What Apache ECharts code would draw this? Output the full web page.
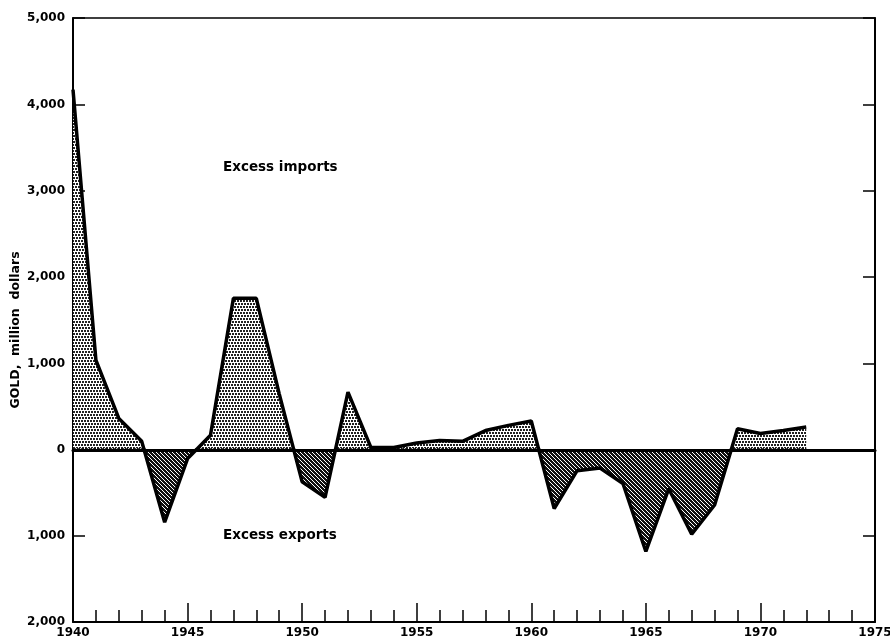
<!DOCTYPE html>
<html>
<head>
<meta charset="utf-8">
<script src="https://cdn.jsdelivr.net/npm/echarts@6/dist/echarts.min.js"></script>
<style>
  html, body { margin: 0; padding: 0; background: #fff; }
  #chart { width: 890px; height: 639px; }
</style>
</head>
<body>
<div id="chart"></div>
<script>
// net gold movement, million dollars (positive = excess imports)
const years = [1940, 1941, 1942, 1943, 1944, 1945, 1946, 1947, 1948, 1949,
  1950, 1951, 1952, 1953, 1954, 1955, 1956, 1957, 1958, 1959,
  1960, 1961, 1962, 1963, 1964, 1965, 1966, 1967, 1968, 1969,
  1970, 1971, 1972]
const gold = [4170, 1040, 365, 100, -840, -100, 170, 1755, 1755, 650,
  -370, -550, 670, 30, 30, 80, 110, 100, 225, 285,
  335, -680, -240, -210, -390, -1180, -450, -980, -640, 245,
  190, 225, 265]

const xMin = 1940
const xMax = 1975
const upperMax = 5000
const lowerMin = -2000

const points = years.map((y, i) => [y, gold[i]])

function dotPattern() {
  const c = document.createElement('canvas')
  c.width = 6
  c.height = 6
  const g = c.getContext('2d')
  g.fillStyle = '#fff'
  g.fillRect(0, 0, 6, 6)
  g.fillStyle = '#222'
  g.fillRect(0, 0, 2, 2)
  g.fillRect(3, 0, 2, 2)
  g.fillRect(1, 3, 2, 2)
  g.fillRect(4, 3, 2, 2)
  return c
}

function hatchPattern() {
  const c = document.createElement('canvas')
  c.width = 4
  c.height = 4
  const g = c.getContext('2d')
  g.fillStyle = '#111'
  g.fillRect(0, 0, 4, 4)
  g.fillStyle = '#fff'
  for (let i = 0; i < 4; i++) g.fillRect(i, i, 1, 1)
  return c
}

const commas = v => Math.abs(v).toLocaleString('en-US')
const labelFont = { fontFamily: 'DejaVu Sans', fontWeight: 'bold', color: '#000' }
const axisBase = { type: 'value', splitLine: { show: false } }

const chart = echarts.init(document.getElementById('chart'))

const option = {
  animation: false,
  grid: [
    { left: 73, width: 802, top: 18, height: 432, outerBoundsMode: 'none', containLabel: false },
    { left: 73, width: 802, top: 450, height: 172, outerBoundsMode: 'none', containLabel: false },
  ],
  xAxis: [
    {
      ...axisBase, gridIndex: 0, min: xMin, max: xMax, position: 'bottom', z: 10,
      axisLine: { onZero: false, lineStyle: { color: '#000', width: 3 } },
      axisTick: { show: false }, axisLabel: { show: false },
    },
    {
      ...axisBase, gridIndex: 0, min: xMin, max: xMax, position: 'top',
      axisLine: { onZero: false, lineStyle: { color: '#000', width: 1.5 } },
      axisTick: { show: false }, axisLabel: { show: false },
    },
    {
      ...axisBase, gridIndex: 1, min: xMin, max: xMax, interval: 1, position: 'bottom',
      axisLine: { onZero: false, lineStyle: { color: '#000', width: 2 } },
      axisTick: { inside: true, length: 12, lineStyle: { color: '#000', width: 1.5 } },
      axisLabel: { show: false },
    },
    {
      ...axisBase, gridIndex: 1, min: xMin, max: xMax, interval: 5, position: 'bottom',
      axisLine: { show: false, onZero: false },
      axisTick: { inside: true, length: 19, lineStyle: { color: '#000', width: 1.5 } },
      axisLabel: { ...labelFont, fontSize: 12, margin: 5, formatter: v => String(v) },
    },
  ],
  yAxis: [
    {
      ...axisBase, gridIndex: 0, min: 0, max: upperMax, interval: 1000, position: 'left',
      axisLine: { show: true, onZero: false, lineStyle: { color: '#000', width: 2 } },
      axisTick: { show: true, inside: true, length: 12, lineStyle: { color: '#000', width: 1.5 } },
      axisLabel: { ...labelFont, fontSize: 12, margin: 8, formatter: commas },
    },
    {
      ...axisBase, gridIndex: 0, min: 0, max: upperMax, interval: 1000, position: 'right',
      axisLine: { show: true, onZero: false, lineStyle: { color: '#000', width: 2 } },
      axisTick: { show: true, inside: true, length: 12, lineStyle: { color: '#000', width: 1.5 } },
      axisLabel: { show: false },
    },
    {
      ...axisBase, gridIndex: 1, min: lowerMin, max: 0, interval: 1000, position: 'left',
      axisLine: { show: true, onZero: false, lineStyle: { color: '#000', width: 2 } },
      axisTick: { show: true, inside: true, length: 12, lineStyle: { color: '#000', width: 1.5 } },
      axisLabel: { ...labelFont, fontSize: 12, margin: 8, formatter: v => (v === 0 ? '' : commas(v)) },
    },
    {
      ...axisBase, gridIndex: 1, min: lowerMin, max: 0, interval: 1000, position: 'right',
      axisLine: { show: true, onZero: false, lineStyle: { color: '#000', width: 2 } },
      axisTick: { show: true, inside: true, length: 12, lineStyle: { color: '#000', width: 1.5 } },
      axisLabel: { show: false },
    },
  ],
  series: [
    {
      name: 'imports', type: 'line', xAxisIndex: 0, yAxisIndex: 0,
      data: points, showSymbol: false, clip: true, z: 3,
      lineStyle: { color: '#000', width: 3.5 },
      areaStyle: { color: { image: dotPattern(), repeat: 'repeat' }, opacity: 1 },
    },
    {
      name: 'exports', type: 'line', xAxisIndex: 2, yAxisIndex: 2,
      data: points, showSymbol: false, clip: true, z: 3,
      lineStyle: { color: '#000', width: 3.5 },
      areaStyle: { color: { image: hatchPattern(), repeat: 'repeat' }, opacity: 1 },
    },
  ],
  graphic: [
    {
      type: 'text', left: 223, top: 160,
      style: { text: 'Excess imports', ...labelFont, fill: '#000', fontSize: 13.5 },
    },
    {
      type: 'text', left: 223, top: 528,
      style: { text: 'Excess exports', ...labelFont, fill: '#000', fontSize: 13.5 },
    },
    {
      type: 'text', x: 16, y: 330, rotation: Math.PI / 2,
      style: {
        text: 'GOLD,  million  dollars', fontFamily: 'DejaVu Sans', fontWeight: 'bold',
        fontSize: 12.5, fill: '#000', align: 'center', verticalAlign: 'middle',
      },
    },
  ],
}

chart.setOption(option)

window.addEventListener('resize', () => chart.resize())
</script>
</body>
</html>
